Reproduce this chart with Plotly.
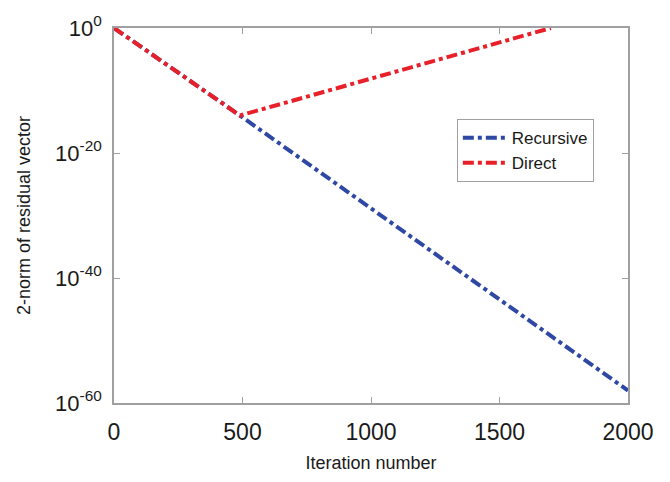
import plotly.graph_objects as go

# Data (log10 residual vs iteration)
recursive_x = [0, 490, 2000]
recursive_y = [1e0, 1e-14, 1e-58]
direct_x = [0, 490, 1700]
direct_y = [1e0, 1e-14, 1e0]

x_ticks = [0, 500, 1000, 1500, 2000]
y_tickvals = [1e-60, 1e-40, 1e-20, 1e0]
y_ticktext = ["10<sup>-60</sup>", "10<sup>-40</sup>", "10<sup>-20</sup>", "10<sup>0</sup>"]

sans = "Liberation Sans, Arial, sans-serif"
ink = "#1a1a1a"

fig = go.Figure()
fig.add_trace(go.Scatter(x=recursive_x, y=recursive_y, mode="lines", name="Recursive",
                         line=dict(color="#2E48A4", width=4, dash="11px,4px,4px,4px")))
fig.add_trace(go.Scatter(x=direct_x, y=direct_y, mode="lines", name="Direct",
                         line=dict(color="#E8202A", width=4, dash="11px,4px,4px,4px")))

axis_common = dict(showline=True, linecolor="#A0A0A0", linewidth=1.5, mirror="ticks",
                   ticks="inside", tickcolor="#A0A0A0", ticklen=6, showgrid=False,
                   zeroline=False)

fig.update_layout(
    width=670, height=482,
    margin=dict(l=114, r=42, t=23, b=72),
    paper_bgcolor="white", plot_bgcolor="white",
    showlegend=True,
    legend=dict(x=0.667, y=0.757, xanchor="left", yanchor="top",
                bordercolor="#A0A0A0", borderwidth=1, bgcolor="white",
                font=dict(family=sans, size=17, color=ink),
                tracegroupgap=0, itemwidth=44),
    xaxis=dict(range=[0, 2000], tickvals=x_ticks,
               tickfont=dict(family=sans, size=23, color=ink),
               ticklabelstandoff=8,
               title=dict(text="Iteration number", font=dict(family=sans, size=18, color=ink), standoff=12),
               **axis_common),
    yaxis=dict(type="log", range=[-60, 0], tickvals=y_tickvals, ticktext=y_ticktext,
               tickfont=dict(family=sans, size=22, color=ink),
               ticklabelstandoff=6,
               title=dict(text="2-norm of residual vector", font=dict(family=sans, size=18, color=ink), standoff=20),
               **axis_common),
)

fig.write_html("out.html")
